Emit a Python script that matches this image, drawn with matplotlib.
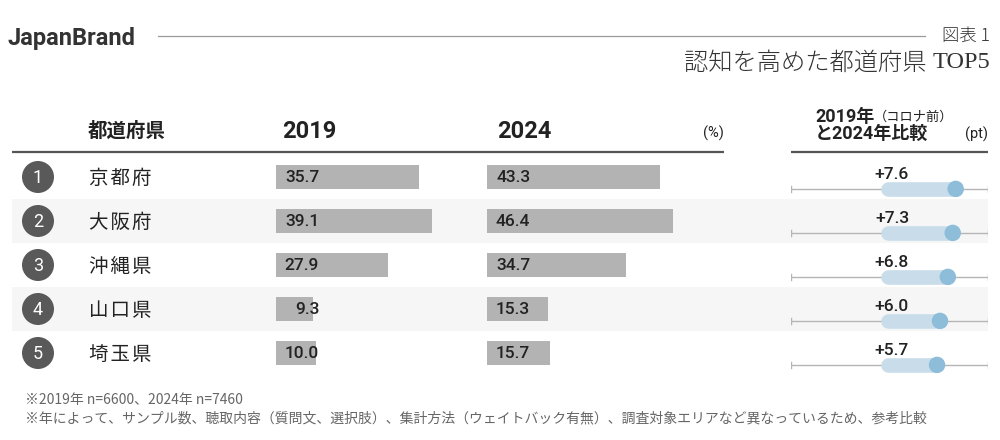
import matplotlib
matplotlib.use("Agg")
import matplotlib.pyplot as plt
from matplotlib.patches import Rectangle, Circle

plt.rcParams['font.family'] = ['Roboto', 'Noto Sans CJK JP', 'DejaVu Sans']

# データ
ranks = [1, 2, 3, 4, 5]
prefs = ["京都府", "大阪府", "沖縄県", "山口県", "埼玉県"]
v2019 = [35.7, 39.1, 27.9, 9.3, 10.0]
v2024 = [43.3, 46.4, 34.7, 15.3, 15.7]
diff = [7.6, 7.3, 6.8, 6.0, 5.7]
notes = ["※2019年 n=6600、2024年 n=7460",
         "※年によって、サンプル数、聴取内容（質問文、選択肢）、集計方法（ウェイトバック有無）、調査対象エリアなど異なっているため、参考比較"]

W, H = 1000, 440
fig = plt.figure(figsize=(W / 100, H / 100), dpi=100)
fig.patch.set_facecolor("white")

# レイアウト用の軸（ピクセル座標）
base = fig.add_axes([0, 0, 1, 1], zorder=0)
base.set_xlim(0, W)
base.set_ylim(H, 0)
base.axis("off")

dark = "#222222"
row_top, row_h = 155, 44

# ヘッダー
base.text(8, 38, "JapanBrand", fontsize=17, fontweight="bold", color="#333333",
          va="center", ha="left", family=["Roboto", "DejaVu Sans"])
base.plot([158, 925], [36, 36], color="#9a9a9a", lw=0.9)
base.text(990, 36, "図表 1", fontsize=12.5, color="#333333", va="center", ha="right",
          family=["Noto Sans CJK JP", "DejaVu Sans"], fontweight="light")
t5 = base.text(990, 63, "TOP5", fontsize=17.5, color="#333333", va="center", ha="right",
               family=["Liberation Serif", "DejaVu Serif"])
base.annotate("認知を高めた都道府県 ", xy=(0, 0.5), xycoords=t5, fontsize=17.5,
              color="#333333", va="center", ha="right",
              family=["Noto Sans CJK JP", "DejaVu Sans"], fontweight="light")

# 列見出し
base.text(88, 131, "都道府県", fontsize=14, fontweight="bold", color=dark, va="center")
base.text(282, 131, "2019", fontsize=17, fontweight="bold", color=dark, va="center")
base.text(497, 131, "2024", fontsize=17, fontweight="bold", color=dark, va="center")
base.text(724, 133, "(%)", fontsize=10.5, color=dark, va="center", ha="right")
h1 = base.text(815, 117, "2019年", fontsize=13, fontweight="bold", color=dark, va="center")
base.annotate("（コロナ前）", xy=(1, 0.5), xycoords=h1, fontsize=9.5, color=dark,
              va="center", ha="left", family=["Noto Sans CJK JP", "DejaVu Sans"])
base.text(815, 134, "と2024年比較", fontsize=13, fontweight="bold", color=dark, va="center")
base.text(988, 134, "(pt)", fontsize=10.5, color=dark, va="center", ha="right")

base.plot([12, 724], [152, 152], color="#555555", lw=1.6, solid_capstyle="butt")
base.plot([791, 988], [152, 152], color="#555555", lw=1.6, solid_capstyle="butt")

# 行の背景と順位・名称
for i, (r, p) in enumerate(zip(ranks, prefs)):
    yc = row_top + row_h * (i + 0.5)
    if i % 2 == 1:
        base.add_patch(Rectangle((12, row_top + row_h * i), 976, row_h,
                                 facecolor="#f6f6f6", edgecolor="none", zorder=0))
    base.add_patch(Circle((38, yc), 16, facecolor="#595959", edgecolor="none", zorder=2))
    base.text(38, yc + 1, str(r), fontsize=13, color="white", ha="center", va="center", zorder=3)
    base.text(89, yc + 1, "\u200a".join(p), fontsize=14, color=dark, va="center", zorder=3,
              family=["Noto Sans CJK JP", "DejaVu Sans"])

for n, note in enumerate(notes):
    base.text(25, 400 + 18 * n, note, fontsize=10, color="#666666", va="center",
              family=["Noto Sans CJK JP", "DejaVu Sans"])

bot = (H - (row_top + row_h * 5)) / H
hgt = row_h * 5 / H


def bar_axes(left_px, values):
    ax = fig.add_axes([left_px / W, bot, 200 / W, hgt], zorder=2)
    ax.set_xlim(0, 50)
    ax.set_ylim(4.5, -0.5)
    ax.axis("off")
    ax.barh(range(len(values)), values, height=0.55, color="#b3b3b3")
    for i, v in enumerate(values):
        ax.text(10.8, i + 0.02, f"{v:.1f}", fontsize=12.5, color=dark, ha="right", va="center",
                fontweight="medium")
    return ax


bar_axes(276, v2019)
bar_axes(487, v2024)

# 差分（pt）
axd = fig.add_axes([791 / W, bot, 197 / W, hgt], zorder=2)
axd.set_xlim(-9.2, 10.9)
axd.set_ylim(4.5, -0.5)
axd.axis("off")
lo, hi = axd.get_xlim()
for i, d in enumerate(diff):
    yl = i + 0.27
    axd.plot([lo, hi], [yl, yl], color="#b5b5b5", lw=1)
    axd.plot([lo, lo], [yl - 0.07, yl + 0.07], color="#b5b5b5", lw=1)
    axd.plot([hi, hi], [yl - 0.07, yl + 0.07], color="#b5b5b5", lw=1)
    axd.plot([0.7, d], [yl, yl], color="#c8dcea", lw=10.5, solid_capstyle="round")
    axd.scatter([d], [yl], s=140, color="#8dbdd9", zorder=3, edgecolors="none")
    axd.text(1.1, i - 0.05, f"+{d:.1f}", fontsize=12.5, color=dark, ha="center", va="center",
             fontweight="medium")

fig.savefig("out.png", dpi=100)
